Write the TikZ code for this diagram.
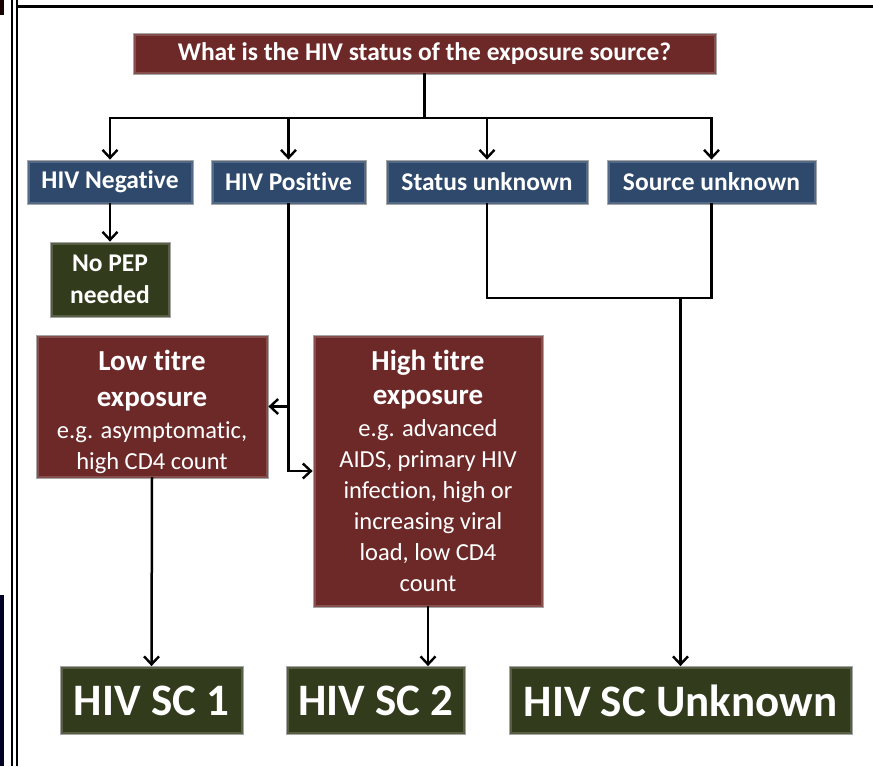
\documentclass[tikz,border=0pt]{standalone}
\usepackage{fontspec}
\setmainfont[Ligatures=NoCommon]{Carlito}
\usetikzlibrary{arrows.meta}
\definecolor{qred}{RGB}{108,41,40}
\definecolor{qblue}{RGB}{46,73,108}
\definecolor{qgreen}{RGB}{50,60,28}
\begin{document}
\begin{tikzpicture}[x=1pt,y=-1pt,
  box/.style={draw=black!35, line width=0.8pt, text=white, inner sep=0pt, align=center,
    path picture={\draw[white,opacity=0.18,line width=5pt]
      (path picture bounding box.south west) rectangle (path picture bounding box.north east);}},
  redbox/.style={box, fill=qred},
  bluebox/.style={box, fill=qblue, font=\fontsize{25.5}{28}\selectfont\bfseries},
  greenbox/.style={box, fill=qgreen},
  bigtext/.style={font=\fontsize{45}{50}\selectfont\bfseries},
  conn/.style={line width=2.5pt, line cap=rect},
  arr/.style={conn, -{Straight Barb[length=8pt,width=15pt,line width=2.4pt]}},
  ttl/.style={font=\fontsize{24.5}{31}\selectfont}
]
\useasboundingbox (0,0) rectangle (873,766);
% screenshot frame
\fill[black!90!red] (0,0) rectangle (4,15);
\fill[black!85!blue] (0,595) rectangle (4,766);
\draw[line width=1.4pt] (12,0) -- (12,766);
\draw[line width=1.4pt] (17,0) -- (17,766);
\draw[line width=2.5pt] (17,6.5) -- (873,6.5);

% nodes
\node[redbox, minimum width=583, minimum height=41, font=\fontsize{25.5}{28}\selectfont\bfseries] (q) at (424.5,53.5) {What is the HIV status of the exposure source?};
\node[bluebox, minimum width=166, minimum height=44] (neg) at (110,182) {HIV Negative};
\node[bluebox, minimum width=155, minimum height=44] (pos) at (288.5,182) {HIV Positive};
\node[bluebox, minimum width=202, minimum height=44] (stat) at (487,182) {Status unknown};
\node[bluebox, minimum width=209, minimum height=44] (src) at (711.5,182) {Source unknown};
\node[greenbox, minimum width=120, minimum height=75, font=\fontsize{25.5}{32}\selectfont\bfseries] (nopep) at (110,279.5) {No PEP\\needed};
\node[redbox, ttl, minimum width=232, minimum height=143] (low) at (152,406.5)
  {{\fontsize{29}{33}\selectfont\bfseries \rule{0pt}{32pt}Low titre}\\[5pt]{\fontsize{29}{33}\selectfont\bfseries exposure}\\[1pt]e.g. asymptomatic,\\high CD4 count};
\node[redbox, ttl, minimum width=230, minimum height=272] (high) at (428,471)
  {{\fontsize{29}{33}\selectfont\bfseries High titre}\\[3pt]{\fontsize{29}{33}\selectfont\bfseries exposure}\\[1pt]e.g. advanced\\AIDS, primary HIV\\infection, high or\\increasing viral\\load, low CD4\\count};
\node[greenbox, bigtext, minimum width=183, minimum height=68] (sc1) at (151.5,700.5) {HIV SC 1};
\node[greenbox, bigtext, minimum width=179, minimum height=68] (sc2) at (376,700.5) {HIV SC 2};
\node[greenbox, bigtext, minimum width=343, minimum height=68] (unk) at (680.5,700.5) {HIV SC Unknown};

% connectors
\coordinate (bus) at (424.5,118);
\coordinate (join) at (680.5,298);
\draw[conn] (q.south) -- (bus);
\draw[conn] (neg.north |- bus) -- (src.north |- bus);
\foreach \n in {neg,pos,stat,src}
  \draw[arr] (\n.north |- bus) -- (\n.north);
\draw[arr] (neg.south) -- (nopep.north);
\draw[arr] (pos.south) |- (high.west);
\draw[arr] (pos.south |- low.east) -- (low.east);
\draw[arr] (low.south) -- (sc1.north);
\draw[arr] (high.south) -- (high.south |- sc2.north);
\draw[conn] (stat.south) |- (src.south |- join) -- (src.south);
\draw[arr] (join) -- (unk.north);
\end{tikzpicture}
\end{document}
